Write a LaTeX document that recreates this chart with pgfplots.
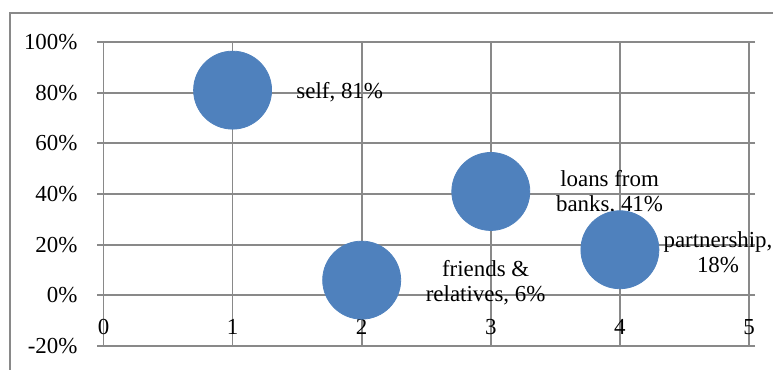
\documentclass[border=0pt]{standalone}
\usepackage{pgfplots}
\pgfplotsset{compat=1.18}
\usepackage{fontspec}
\setmainfont{Liberation Serif}
\definecolor{bub}{HTML}{4F81BD}
\definecolor{gridc}{HTML}{898989}
\begin{document}
\fontsize{11.5}{12.8}\selectfont
\begin{tikzpicture}
\begin{axis}[
 at={(0,0)}, anchor=south west,
 scale only axis, width=322.75bp, height=152bp,
 xmin=0, xmax=5, ymin=-20, ymax=100,
 xtick={0,1,2,3,4,5}, ytick={-20,0,20,40,60,80,100},
 xticklabels={0,1,2,3,4,5},
 yticklabels={-20\%,0\%,20\%,40\%,60\%,80\%,100\%},
 grid=major, major grid style={gridc, line width=0.9bp},
 axis line style={gridc, line width=0.9bp},
 /pgf/number format/assume math mode=true,
 tick style={gridc, line width=0.9bp},
 xtick style={draw=none},
 tick align=outside, major tick length=3bp,
 xticklabel style={yshift=20.5bp},
 yticklabel style={xshift=-6bp},
 tick label style={font=\fontsize{11.5}{12.8}\selectfont},
 clip=false,
]
\addplot[only marks, mark=*, mark size=19.5bp, mark options={fill=bub, draw=bub}] coordinates {(1,81) (2,6) (3,41) (4,18)};
\node[align=center] at (axis cs:1.83,80) {self, 81\%};
\node[align=center] at (axis cs:3.92,40.5) {loans from\\banks, 41\%};
\node[align=center] at (axis cs:4.76,17) {partnership,\\18\%};
\node[align=center] at (axis cs:2.96,5) {friends \&\\relatives, 6\%};
\end{axis}
\draw[gridc, line width=0.8bp] ([xshift=-46.75bp,yshift=-30bp]current axis.south west) |- ([xshift=30bp,yshift=14.5bp]current axis.north east);
\pgfresetboundingbox
\path[use as bounding box] ([xshift=-51.75bp,yshift=-12bp]current axis.south west) rectangle ([xshift=12bp,yshift=21bp]current axis.north east);
\end{tikzpicture}
\end{document}
